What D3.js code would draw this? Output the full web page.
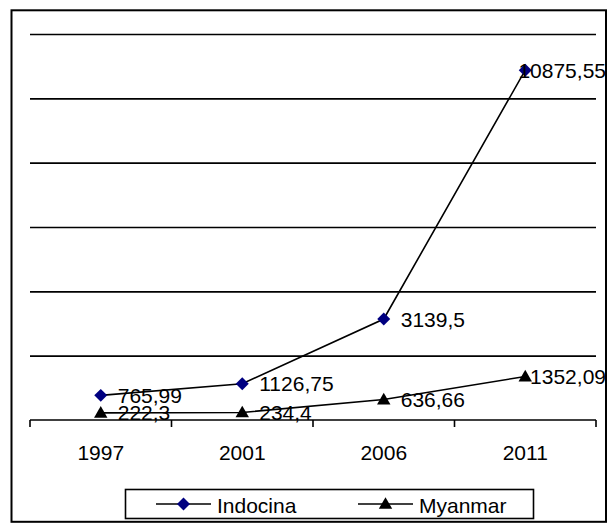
<!DOCTYPE html>
<html>
<head>
<meta charset="utf-8">
<script src="https://cdn.jsdelivr.net/npm/d3@7"></script>
<style>
  html, body { margin: 0; padding: 0; background: #fff; }
  svg { display: block; font-family: "Liberation Sans", Arial, sans-serif; }
</style>
</head>
<body>
<svg id="chart" width="607" height="523"></svg>
<script>
// Chart data
const years = ["1997", "2001", "2006", "2011"];
const indocina = [765.99, 1126.75, 3139.5, 10875.55];
const myanmar = [222.3, 234.4, 636.66, 1352.09];
const seriesNames = ["Indocina", "Myanmar"];
const gridValues = [2000, 4000, 6000, 8000, 10000, 12000];

const series = [
  { name: seriesNames[0], values: indocina, color: "#000080", shape: "diamond" },
  { name: seriesNames[1], values: myanmar, color: "#000000", shape: "triangle" }
];

const svg = d3.select("#chart");
const W = 607, H = 523;
const plot = { left: 30, right: 596, top: 34, bottom: 420 };
const fontSize = 21;

// outer frame
svg.append("rect")
  .attr("x", 11.5).attr("y", 10.3)
  .attr("width", 594.5).attr("height", 511.5)
  .attr("fill", "none").attr("stroke", "#000").attr("stroke-width", 2);

const x = d3.scaleBand().domain(years).range([plot.left, plot.right]).padding(0);
const y = d3.scaleLinear().domain([0, 12000]).range([plot.bottom, plot.top]);
const cx = d => x(d) + x.bandwidth() / 2;

// horizontal gridlines
svg.append("g").attr("transform", `translate(${plot.left},0)`)
  .call(d3.axisLeft(y).tickValues(gridValues).tickSize(-(plot.right - plot.left)).tickFormat(""))
  .call(g => g.select(".domain").remove())
  .call(g => g.selectAll(".tick line").attr("stroke", "#000").attr("stroke-width", 1.6));

// category axis: baseline with tick marks at category boundaries
const xAxis = svg.append("g");
xAxis.append("line")
  .attr("x1", plot.left).attr("x2", plot.right)
  .attr("y1", y(0)).attr("y2", y(0))
  .attr("stroke", "#000").attr("stroke-width", 1.6);
const bounds = years.map(d => x(d)).concat([plot.right]);
xAxis.selectAll("line.tick").data(bounds).enter().append("line")
  .attr("class", "tick")
  .attr("x1", d => d).attr("x2", d => d)
  .attr("y1", y(0)).attr("y2", y(0) + 7)
  .attr("stroke", "#000").attr("stroke-width", 1.6);
xAxis.selectAll("text").data(years).enter().append("text")
  .attr("x", d => cx(d)).attr("y", 460)
  .attr("text-anchor", "middle")
  .attr("font-size", fontSize)
  .text(d => d);

// marker shapes
const diamond = d3.symbol().type(d3.symbolSquare).size(84);
const triangle = d3.symbol().type(d3.symbolTriangle).size(78);
function drawMarker(g, shape, color, px, py) {
  if (shape === "diamond") {
    g.append("path").attr("d", diamond())
      .attr("transform", `translate(${px},${py}) rotate(45)`)
      .attr("fill", color);
  } else {
    g.append("path").attr("d", triangle())
      .attr("transform", `translate(${px},${py + 1})`)
      .attr("fill", color);
  }
}

const line = d3.line().x((d, i) => cx(years[i])).y(d => y(d));

// series lines
series.forEach(s => {
  svg.append("path").datum(s.values)
    .attr("d", line)
    .attr("fill", "none").attr("stroke", "#000").attr("stroke-width", 1.6);
});

// markers
series.forEach(s => {
  const g = svg.append("g");
  s.values.forEach((v, i) => drawMarker(g, s.shape, s.color, cx(years[i]), y(v)));
});

// value labels, kept inside the frame on the right
const fmt = v => String(v).replace(".", ",");
series.forEach(s => {
  s.values.forEach((v, i) => {
    const px = cx(years[i]), py = y(v);
    const t = svg.append("text")
      .attr("font-size", fontSize)
      .attr("y", py + 7.5)
      .text(fmt(v));
    const w = t.node().getComputedTextLength();
    t.attr("x", Math.min(px + 17, 606 - w));
  });
});

// legend
const leg = svg.append("g");
leg.append("rect")
  .attr("x", 125.5).attr("y", 489.5).attr("width", 408).attr("height", 29)
  .attr("fill", "#fff").attr("stroke", "#000").attr("stroke-width", 1.6);
const legX = [156, 358];
series.forEach((s, i) => {
  const lx = legX[i], ly = 504;
  leg.append("line")
    .attr("x1", lx).attr("x2", lx + 55).attr("y1", ly).attr("y2", ly)
    .attr("stroke", "#000").attr("stroke-width", 1.6);
  drawMarker(leg, s.shape, s.color, lx + 27.5, ly);
  leg.append("text")
    .attr("x", lx + 61).attr("y", 513)
    .attr("font-size", fontSize)
    .text(s.name);
});
</script>
</body>
</html>
